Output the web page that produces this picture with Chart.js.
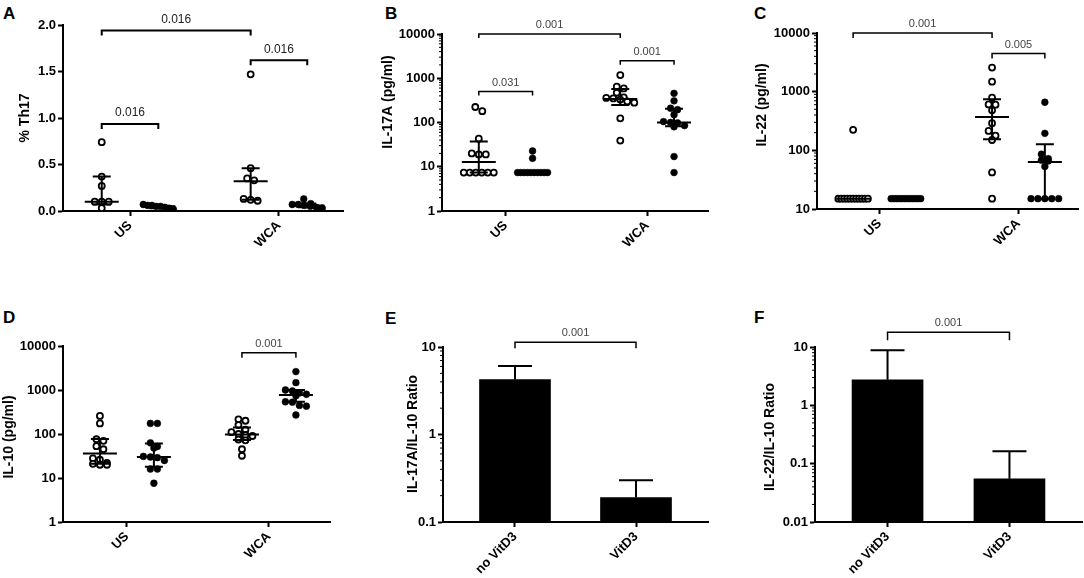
<!DOCTYPE html>
<html>
<head>
<meta charset="utf-8">
<script src="https://cdn.jsdelivr.net/npm/chart.js@4.4.1/dist/chart.umd.min.js"></script>
<style>
  body { margin: 0; background: #fff; }
  #page { position: relative; width: 1084px; height: 578px; overflow: hidden; font-family: "Liberation Sans", Arial, sans-serif; }
  canvas { position: absolute; }
  .letter { position: absolute; font-weight: bold; font-size: 17px; color: #000; }
</style>
</head>
<body>
<div id="page">
  <div class="letter" style="left:3px;top:4px">A</div>
  <div class="letter" style="left:385px;top:4px">B</div>
  <div class="letter" style="left:754px;top:4px">C</div>
  <div class="letter" style="left:3px;top:308px">D</div>
  <div class="letter" style="left:385px;top:309px">E</div>
  <div class="letter" style="left:754px;top:308px">F</div>
</div>
<script>
// groups on the x axis
const groups = ["US", "WCA"];
const ratioCats = ["no VitD3", "VitD3"];

// A - % Th17 (open = no VitD3, filled = VitD3)
const th17UsNo = [0.74, 0.37, 0.27, 0.10, 0.10, 0.10, 0.03];
const th17UsD = [0.07, 0.06, 0.06, 0.05, 0.05, 0.04, 0.03, 0.02];
const th17WcaNo = [1.47, 0.46, 0.35, 0.33, 0.13, 0.12, 0.11];
const th17WcaD = [0.13, 0.08, 0.07, 0.07, 0.06, 0.05, 0.04, 0.03];
const th17Med = [0.10, 0.05, 0.32, 0.06];
const th17Q1 = [0.07, 0.03, 0.12, 0.04];
const th17Q3 = [0.37, 0.06, 0.46, 0.08];
const th17Pairs = [[0, 2], [2, 3], [0, 1]];
const th17BracketY = [1.94, 1.62, 0.935];
const th17P = ["0.016", "0.016", "0.016"];

// B - IL-17A
const il17UsNo = [224, 180, 43, 20, 19, 19, 7.4, 7.4, 7.4, 7.4, 7.4, 7.4];
const il17UsD = [22.7, 15.5, 7.4, 7.4, 7.4, 7.4, 7.4, 7.4, 7.4, 7.4, 7.4, 7.4];
const il17WcaNo = [1180, 645, 590, 470, 370, 360, 350, 330, 300, 280, 124, 39];
const il17WcaD = [457, 309, 210, 195, 150, 105, 100, 98, 85, 80, 17, 7.4];
const il17Med = [12.8, 7.4, 340, 100];
const il17Q1 = [7.4, 7.4, 250, 82];
const il17Q3 = [37, 7.4, 570, 205];
const il17Pairs = [[0, 2], [2, 3], [0, 1]];
const il17BracketY = [10000, 2500, 500];
const il17P = ["0.001", "0.001", "0.031"];

// C - IL-22
const il22UsNo = [224, 15, 15, 15, 15, 15, 15, 15, 15, 15, 15, 15];
const il22UsD = [15, 15, 15, 15, 15, 15, 15, 15, 15, 15, 15, 15];
const il22WcaNo = [2570, 1480, 790, 605, 600, 480, 290, 214, 178, 150, 42, 15];
const il22WcaD = [660, 195, 86, 72, 68, 66, 53, 15, 15, 15, 15, 15];
const il22Med = [15, 15, 370, 63];
const il22Q1 = [15, 15, 154, 15];
const il22Q3 = [15, 15, 740, 127];
const il22Pairs = [[0, 2], [2, 3]];
const il22BracketY = [10000, 4470];
const il22P = ["0.001", "0.005"];

// D - IL-10
const il10UsNo = [257, 174, 76, 70, 53, 45, 28, 26, 22, 21, 20, 20];
const il10UsD = [174, 174, 63, 52, 48, 31, 30, 29, 25, 16, 16, 7.6];
const il10WcaNo = [215, 200, 160, 125, 110, 100, 95, 90, 75, 72, 45, 32];
const il10WcaD = [2620, 1470, 1000, 950, 860, 800, 740, 540, 530, 445, 430, 270];
const il10Med = [36, 30, 98, 770];
const il10Q1 = [21, 18, 73, 540];
const il10Q3 = [77, 61, 140, 1000];
const il10Pairs = [[2, 3]];
const il10BracketY = [7000];
const il10P = ["0.001"];

// E - IL-17A/IL-10 ratio, F - IL-22/IL-10 ratio
const il17Ratio = [4.24, 0.19];
const il17RatioErr = [6.06, 0.30];
const il22Ratio = [2.75, 0.055];
const il22RatioErr = [8.8, 0.163];
const ratioPairs = [[0, 1]];
const il17RatioBracketY = [11.3];
const il22RatioBracketY = [17.9];
const ratioP = ["0.001"];

// tick labels
const ticksTh17 = [0, 0.5, 1, 1.5, 2];
const ticksPg = [1, 10, 100, 1000, 10000];
const ticksIl22 = [10, 100, 1000, 10000];
const ticksE = [0.1, 1, 10];
const ticksF = [0.01, 0.1, 1, 10];

const FONT = '"Liberation Sans", Arial, sans-serif';
Chart.defaults.font.family = FONT;
const X_MIN = 0.55, X_MAX = 2.43, SHIFT = 0.19;
const B_MIN = 0.405, B_MAX = 2.595;

const groupX = g => Math.floor(g / 2) + 1 + (g % 2 ? SHIFT : -SHIFT);
const barX = g => g + 1;

// spread equal-ish values side by side, like a scatter dot plot
function swarm(values, center, yPix, pxu) {
    const pts = values.map(v => ({ v, py: yPix(v) })).sort((a, b) => a.py - b.py);
    const out = [];
    let i = 0;
    while (i < pts.length) {
        let j = i;
        while (j + 1 < pts.length && pts[j + 1].py - pts[i].py < 5) j++;
        const n = j - i + 1;
        const step = n > 1 ? Math.min(7, 30 / (n - 1)) : 0;
        for (let k = 0; k < n; k++) {
            out.push({ x: center + (k - (n - 1) / 2) * step / pxu, y: pts[i + k].v });
        }
        i = j + 1;
    }
    return out;
}

function yScale(p) {
    const w = p.area[0] - p.box[0];
    return {
        type: p.yType, min: p.yMin, max: p.yMax,
        afterBuildTicks: s => { s.ticks = p.yTicks.map(v => ({ value: v })); },
        afterFit: s => { s.width = w; },
        ticks: { callback: p.yFmt, color: "#000", font: { size: 13, weight: "bold" }, padding: 2 },
        grid: { drawOnChartArea: false, tickLength: 5, tickWidth: 2, tickColor: "#000" },
        border: { color: "#000", width: 2 }
    };
}

function xScale(p, min, max, labels) {
    const hgt = p.box[1] + p.box[3] - p.area[3];
    return {
        type: "linear", min, max, offset: false,
        afterBuildTicks: s => { s.ticks = labels.map((_, i) => ({ value: i + 1 })); },
        afterFit: s => { s.height = hgt; },
        ticks: {
            callback: v => labels[v - 1], minRotation: 45, maxRotation: 45, autoSkip: false,
            color: "#000", font: { size: 13, weight: "bold" }, padding: 2
        },
        grid: { offset: false, drawOnChartArea: false, tickLength: 5, tickWidth: 2, tickColor: "#000" },
        border: { color: "#000", width: 2 }
    };
}

// medians, error bars, minor ticks, brackets and the y title
function overlay(p, gx) {
    return {
        id: "overlay" + p.id,
        afterDatasetsDraw(chart) {
            const ctx = chart.ctx, xs = chart.scales.x, ys = chart.scales.y;
            ctx.save();
            ctx.strokeStyle = "#000";
            ctx.lineCap = "butt";

            if (p.med) {
                ctx.lineWidth = 2;
                p.med.forEach((m, g) => {
                    const cx = xs.getPixelForValue(gx(g));
                    const ym = ys.getPixelForValue(m);
                    const y1 = ys.getPixelForValue(p.q1[g]);
                    const y3 = ys.getPixelForValue(p.q3[g]);
                    ctx.beginPath();
                    ctx.moveTo(cx - 17, ym); ctx.lineTo(cx + 17, ym);
                    ctx.moveTo(cx, y1); ctx.lineTo(cx, y3);
                    ctx.moveTo(cx - 9, y1); ctx.lineTo(cx + 9, y1);
                    ctx.moveTo(cx - 9, y3); ctx.lineTo(cx + 9, y3);
                    ctx.stroke();
                });
            }

            if (p.err) {
                ctx.lineWidth = 2;
                p.err.forEach((e, g) => {
                    const cx = xs.getPixelForValue(gx(g));
                    const yb = ys.getPixelForValue(p.vals[g]);
                    const ye = ys.getPixelForValue(e);
                    ctx.beginPath();
                    ctx.moveTo(cx, yb); ctx.lineTo(cx, ye);
                    ctx.moveTo(cx - 17, ye); ctx.lineTo(cx + 17, ye);
                    ctx.stroke();
                });
            }

            if (p.minor) {
                ctx.lineWidth = 1;
                const lo = Math.round(Math.log10(p.yMin)), hi = Math.round(Math.log10(p.yMax));
                ctx.beginPath();
                for (let d = lo; d < hi; d++) {
                    for (let m = 2; m <= 9; m++) {
                        const y = ys.getPixelForValue(m * Math.pow(10, d));
                        ctx.moveTo(ys.right - 3, y); ctx.lineTo(ys.right, y);
                    }
                }
                ctx.stroke();
            }

            ctx.lineWidth = p.bw;
            ctx.fillStyle = p.bc;
            ctx.font = p.bf + " " + FONT;
            ctx.textAlign = "center";
            ctx.textBaseline = "middle";
            p.pairs.forEach((pr, i) => {
                const x1 = xs.getPixelForValue(gx(pr[0]));
                const x2 = xs.getPixelForValue(gx(pr[1]));
                const y = ys.getPixelForValue(p.bY[i]);
                ctx.beginPath();
                ctx.moveTo(x1, y + p.drop); ctx.lineTo(x1, y); ctx.lineTo(x2, y); ctx.lineTo(x2, y + p.drop);
                ctx.stroke();
                ctx.fillText(p.bT[i], (x1 + x2) / 2, y - p.bOff);
            });

            ctx.fillStyle = "#000";
            ctx.font = "bold 14px " + FONT;
            ctx.translate(p.titleXY[0] - p.box[0], p.titleXY[1] - p.box[1]);
            ctx.rotate(-Math.PI / 2);
            ctx.fillText(p.title, 0, 0);
            ctx.restore();
        }
    };
}

function makeCanvas(p) {
    const c = document.createElement("canvas");
    c.width = p.box[2];
    c.height = p.box[3];
    c.style.left = p.box[0] + "px";
    c.style.top = p.box[1] + "px";
    c.style.width = p.box[2] + "px";
    c.style.height = p.box[3] + "px";
    document.getElementById("page").appendChild(c);
    return c;
}

function baseOptions(p) {
    return {
        responsive: false,
        animation: false,
        layout: { padding: { left: 0, top: p.area[2] - p.box[1], right: p.box[0] + p.box[2] - p.area[1], bottom: 0 } },
        plugins: { legend: { display: false }, tooltip: { enabled: false } }
    };
}

function scatterPanel(p) {
    const h = p.area[3] - p.area[2];
    const pxu = (p.area[1] - p.area[0]) / (X_MAX - X_MIN);
    const lmin = Math.log10(p.yMin), lmax = Math.log10(p.yMax);
    const yPix = p.yType === "logarithmic"
        ? v => (1 - (Math.log10(v) - lmin) / (lmax - lmin)) * h
        : v => (1 - (v - p.yMin) / (p.yMax - p.yMin)) * h;
    const open = [], filled = [];
    p.sets.forEach((vals, g) => {
        const pts = swarm(vals, groupX(g), yPix, pxu);
        (g % 2 ? filled : open).push(...pts);
    });
    const options = baseOptions(p);
    options.scales = { x: xScale(p, X_MIN, X_MAX, groups), y: yScale(p) };
    new Chart(makeCanvas(p), {
        type: "scatter",
        data: {
            datasets: [
                { label: "no VitD3", data: open, pointRadius: 3, pointBorderWidth: 1.8,
                  pointBackgroundColor: "#fff", pointBorderColor: "#000" },
                { label: "VitD3", data: filled, pointRadius: 3.4, pointBorderWidth: 0.5,
                  pointBackgroundColor: "#000", pointBorderColor: "#000" }
            ]
        },
        options,
        plugins: [overlay(p, groupX)]
    });
}

function barPanel(p) {
    const options = baseOptions(p);
    options.scales = { x: xScale(p, B_MIN, B_MAX, ratioCats), y: yScale(p) };
    new Chart(makeCanvas(p), {
        type: "bar",
        data: {
            datasets: [{
                data: p.vals.map((v, i) => ({ x: i + 1, y: v })),
                backgroundColor: "#000", borderWidth: 0, barThickness: 71, base: p.yMin
            }]
        },
        options,
        plugins: [overlay(p, barX)]
    });
}

const logFmt = v => String(v);

scatterPanel({
    id: "A", box: [0, 0, 360, 290], area: [63, 343, 25, 211],
    yType: "linear", yMin: 0, yMax: 2, yTicks: ticksTh17, yFmt: v => v.toFixed(1),
    title: "% Th17", titleXY: [25, 118],
    sets: [th17UsNo, th17UsD, th17WcaNo, th17WcaD], med: th17Med, q1: th17Q1, q3: th17Q3,
    pairs: th17Pairs, bY: th17BracketY, bT: th17P, minor: false,
    bw: 2, bf: "12px", bc: "#222", bOff: 11, drop: 5
});

scatterPanel({
    id: "B", box: [360, 0, 362, 290], area: [442, 708, 34, 211],
    yType: "logarithmic", yMin: 1, yMax: 10000, yTicks: ticksPg, yFmt: logFmt,
    title: "IL-17A (pg/ml)", titleXY: [388, 102],
    sets: [il17UsNo, il17UsD, il17WcaNo, il17WcaD], med: il17Med, q1: il17Q1, q3: il17Q3,
    pairs: il17Pairs, bY: il17BracketY, bT: il17P, minor: true,
    bw: 1.5, bf: "11px", bc: "#444", bOff: 9, drop: 4
});

scatterPanel({
    id: "C", box: [722, 0, 362, 290], area: [817, 1082, 33, 209],
    yType: "logarithmic", yMin: 10, yMax: 10000, yTicks: ticksIl22, yFmt: logFmt,
    title: "IL-22 (pg/ml)", titleXY: [762, 105],
    sets: [il22UsNo, il22UsD, il22WcaNo, il22WcaD], med: il22Med, q1: il22Q1, q3: il22Q3,
    pairs: il22Pairs, bY: il22BracketY, bT: il22P, minor: true,
    bw: 1.5, bf: "11px", bc: "#444", bOff: 9, drop: 5
});

scatterPanel({
    id: "D", box: [0, 295, 360, 283], area: [63, 330, 346, 522],
    yType: "logarithmic", yMin: 1, yMax: 10000, yTicks: ticksPg, yFmt: logFmt,
    title: "IL-10 (pg/ml)", titleXY: [9, 437],
    sets: [il10UsNo, il10UsD, il10WcaNo, il10WcaD], med: il10Med, q1: il10Q1, q3: il10Q3,
    pairs: il10Pairs, bY: il10BracketY, bT: il10P, minor: false,
    bw: 1.5, bf: "11px", bc: "#444", bOff: 9, drop: 5
});

barPanel({
    id: "E", box: [360, 295, 362, 283], area: [443, 708, 347, 522],
    yType: "logarithmic", yMin: 0.1, yMax: 10, yTicks: ticksE, yFmt: logFmt,
    title: "IL-17A/IL-10 Ratio", titleXY: [413, 434],
    vals: il17Ratio, err: il17RatioErr,
    pairs: ratioPairs, bY: il17RatioBracketY, bT: ratioP, minor: true,
    bw: 1.5, bf: "11px", bc: "#444", bOff: 9, drop: 6
});

barPanel({
    id: "F", box: [722, 295, 362, 283], area: [815, 1082, 347, 522],
    yType: "logarithmic", yMin: 0.01, yMax: 10, yTicks: ticksF, yFmt: logFmt,
    title: "IL-22/IL-10 Ratio", titleXY: [770, 437],
    vals: il22Ratio, err: il22RatioErr,
    pairs: ratioPairs, bY: il22RatioBracketY, bT: ratioP, minor: true,
    bw: 1.5, bf: "11px", bc: "#444", bOff: 9, drop: 8
});
</script>
</body>
</html>
